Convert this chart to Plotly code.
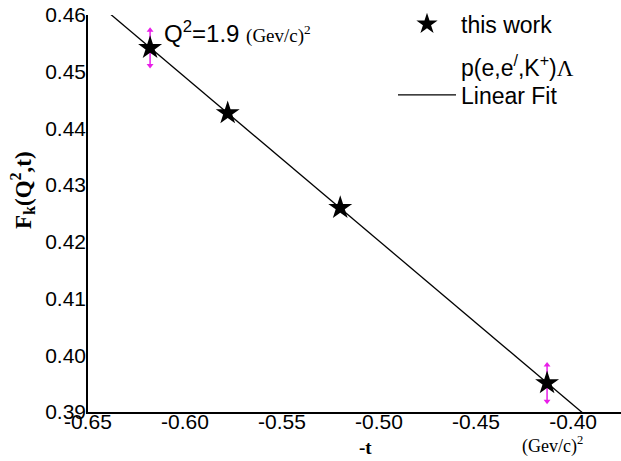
import numpy as np
import plotly.graph_objects as go

# data
t_vals = [-0.618, -0.578, -0.520, -0.4134]
fk_vals = [0.4542, 0.4427, 0.4260, 0.3951]
fk_err = [0.0031, 0.0, 0.0, 0.0032]
x_ticks = [-0.65, -0.60, -0.55, -0.50, -0.45, -0.40]
x_ticktext = ["-0.65", "-0.60", "-0.55", "-0.50", "-0.45", "-0.40"]
y_ticks = [0.39, 0.40, 0.41, 0.42, 0.43, 0.44, 0.45, 0.46]
y_ticktext = ["0.39", "0.40", "0.41", "0.42", "0.43", "0.44", "0.45", "0.46"]
fit_x_range = [-0.645, -0.395]

SANS = "Arial, Liberation Sans, sans-serif"
SERIF = "Times New Roman, Liberation Serif, serif"
MAG = "#e81ee8"

slope, icpt = np.polyfit(t_vals, fk_vals, 1)
fx = np.array(fit_x_range)
fy = slope * fx + icpt

fig = go.Figure()

# error bars (magenta, arrow-headed)
ex = [x for x, e in zip(t_vals, fk_err) if e > 0]
ey = [y for y, e in zip(fk_vals, fk_err) if e > 0]
ee = [e for e in fk_err if e > 0]
fig.add_trace(go.Scatter(x=ex, y=ey, mode="markers", marker=dict(size=0.1, color=MAG),
                         error_y=dict(type="data", array=ee, color=MAG, thickness=1.5, width=0),
                         showlegend=False, hoverinfo="skip"))
fig.add_trace(go.Scatter(x=ex, y=[y + e for y, e in zip(ey, ee)], mode="markers",
                         marker=dict(symbol="triangle-up", size=6, color=MAG),
                         showlegend=False, hoverinfo="skip"))
fig.add_trace(go.Scatter(x=ex, y=[y - e for y, e in zip(ey, ee)], mode="markers",
                         marker=dict(symbol="triangle-down", size=6, color=MAG),
                         showlegend=False, hoverinfo="skip"))

fig.add_trace(go.Scatter(x=list(fx), y=list(fy), mode="lines",
                         line=dict(color="black", width=1.3),
                         name="Linear Fit", legend="legend3"))

fig.add_trace(go.Scatter(x=t_vals, y=fk_vals, mode="markers",
                         marker=dict(symbol="star", size=18, color="black",
                                     line=dict(width=0)),
                         name="this work", legend="legend"))

# second line of the legend label (text only)
fig.add_trace(go.Scatter(x=[None], y=[None], mode="markers",
                         marker=dict(size=1, color="rgba(0,0,0,0)"),
                         name="p(e,e<sup>/</sup>,K<sup>+</sup>)<span style=\"font-family:Times New Roman, Liberation Serif, serif\">Λ</span>",
                         legend="legend2", hoverinfo="skip"))


def px_to_paper(xp, yp):
    return (xp - 88) / 533, (412 - yp) / 397


lg_common = dict(xanchor="left", yanchor="middle", bgcolor="rgba(0,0,0,0)",
                 font=dict(family=SANS, size=23), tracegroupgap=0, itemwidth=58)

fig.update_layout(
    width=621, height=461,
    margin=dict(l=88, r=0, t=15, b=49),
    paper_bgcolor="white", plot_bgcolor="white",
    font=dict(family=SANS, size=20, color="black"),
    showlegend=True,
    legend=dict(x=px_to_paper(393, 0)[0], y=px_to_paper(0, 24)[1], **lg_common),
    legend2=dict(x=px_to_paper(393, 0)[0], y=px_to_paper(0, 67)[1], **lg_common),
    legend3=dict(x=px_to_paper(393, 0)[0], y=px_to_paper(0, 95)[1], **lg_common),
    xaxis=dict(range=[-0.65, -0.3753], showline=True, linecolor="black", linewidth=1.5,
               showgrid=False, zeroline=False, ticks="", tickvals=x_ticks, ticktext=x_ticktext,
               tickfont=dict(family=SANS, size=21), ticklabelstandoff=-10),
    yaxis=dict(range=[0.39, 0.46], showline=True, linecolor="black", linewidth=1.5,
               showgrid=False, zeroline=False, ticks="", tickvals=y_ticks, ticktext=y_ticktext,
               tickfont=dict(family=SANS, size=21), ticklabelstandoff=-4),
)

ax, ay = px_to_paper(365, 447)
fig.add_annotation(x=ax, y=ay, xref="paper", yref="paper", xanchor="center", yanchor="middle",
                   text="<b>-t</b>", showarrow=False, font=dict(family=SERIF, size=19))
ax, ay = px_to_paper(552, 445)
fig.add_annotation(x=ax, y=ay, xref="paper", yref="paper", xanchor="center", yanchor="middle",
                   text="(Gev/c)<sup>2</sup>", showarrow=False, font=dict(family=SERIF, size=18))
ax, ay = px_to_paper(22, 190)
fig.add_annotation(x=ax, y=ay, xref="paper", yref="paper", xanchor="center", yanchor="middle",
                   text="<b>F<sub>k</sub>(Q<sup>2</sup>,t)</b>", showarrow=False, textangle=-90,
                   font=dict(family=SERIF, size=23))
ax, ay = px_to_paper(162, 32)
fig.add_annotation(x=ax, y=ay, xref="paper", yref="paper", xanchor="left", yanchor="middle",
                   text="Q<sup>2</sup>=1.9 <span style=\"font-family:Times New Roman, Liberation Serif, serif;font-size:19px\">(Gev/c)<sup>2</sup></span>",
                   showarrow=False, font=dict(family=SANS, size=24))

fig.write_html("out.html")
